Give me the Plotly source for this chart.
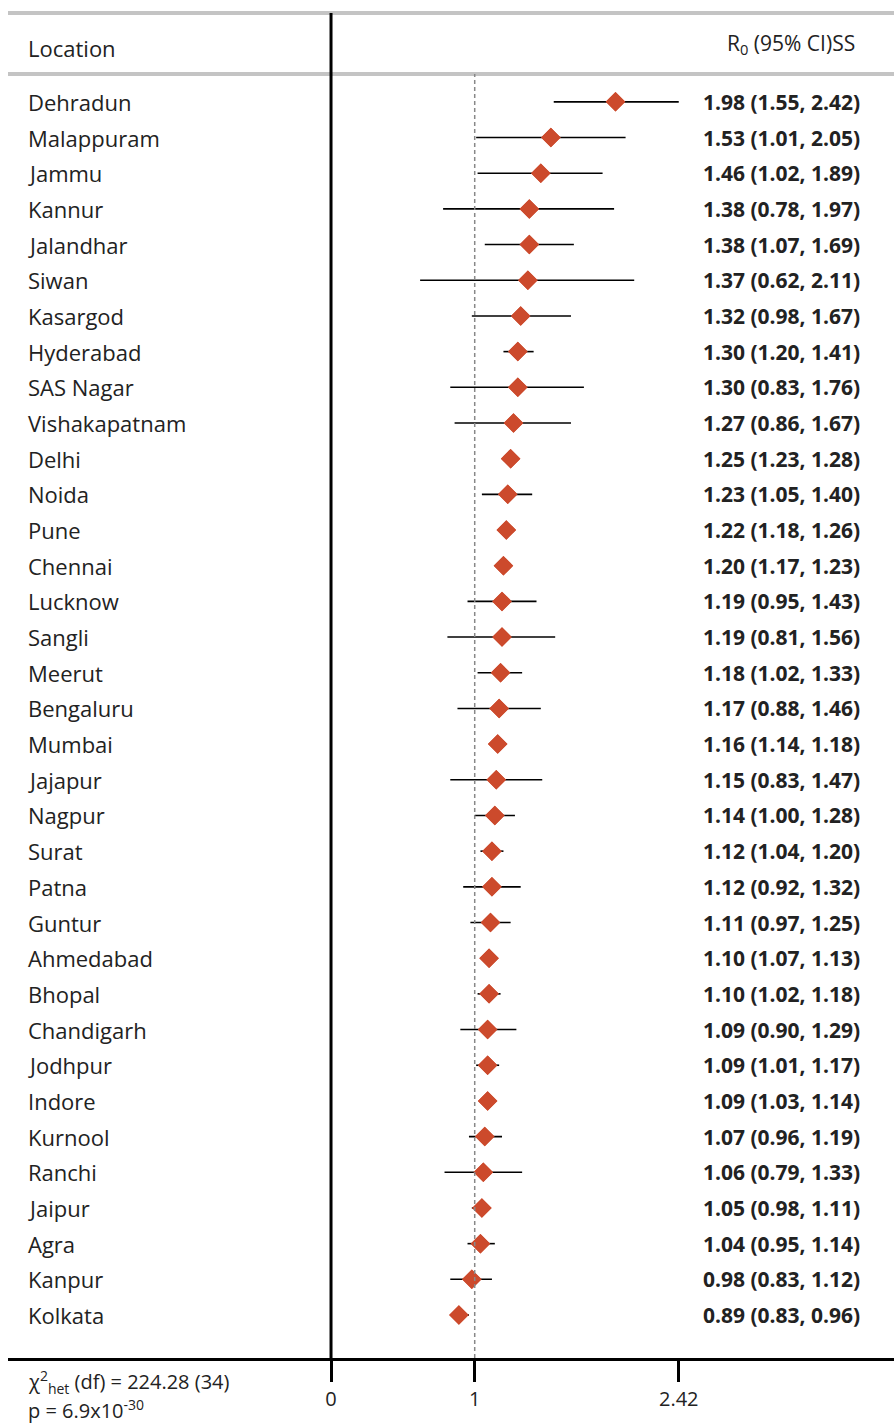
import plotly.graph_objects as go

locations = ["Dehradun", "Malappuram", "Jammu", "Kannur", "Jalandhar", "Siwan", "Kasargod",
             "Hyderabad", "SAS Nagar", "Vishakapatnam", "Delhi", "Noida", "Pune", "Chennai",
             "Lucknow", "Sangli", "Meerut", "Bengaluru", "Mumbai", "Jajapur", "Nagpur", "Surat",
             "Patna", "Guntur", "Ahmedabad", "Bhopal", "Chandigarh", "Jodhpur", "Indore",
             "Kurnool", "Ranchi", "Jaipur", "Agra", "Kanpur", "Kolkata"]
r0 = [1.98, 1.53, 1.46, 1.38, 1.38, 1.37, 1.32, 1.30, 1.30, 1.27, 1.25, 1.23, 1.22, 1.20,
      1.19, 1.19, 1.18, 1.17, 1.16, 1.15, 1.14, 1.12, 1.12, 1.11, 1.10, 1.10, 1.09, 1.09,
      1.09, 1.07, 1.06, 1.05, 1.04, 0.98, 0.89]
ci_low = [1.55, 1.01, 1.02, 0.78, 1.07, 0.62, 0.98, 1.20, 0.83, 0.86, 1.23, 1.05, 1.18, 1.17,
          0.95, 0.81, 1.02, 0.88, 1.14, 0.83, 1.00, 1.04, 0.92, 0.97, 1.07, 1.02, 0.90, 1.01,
          1.03, 0.96, 0.79, 0.98, 0.95, 0.83, 0.83]
ci_high = [2.42, 2.05, 1.89, 1.97, 1.69, 2.11, 1.67, 1.41, 1.76, 1.67, 1.28, 1.40, 1.26, 1.23,
           1.43, 1.56, 1.33, 1.46, 1.18, 1.47, 1.28, 1.20, 1.32, 1.25, 1.13, 1.18, 1.29, 1.17,
           1.14, 1.19, 1.33, 1.11, 1.14, 1.12, 0.96]
tick_vals = [0, 1, 2.42]
tick_text = ["0", "1", "2.42"]

n = len(locations)
ypos = [n - 1 - i for i in range(n)]

FONT = "Open Sans"
TXT = "#222"
fig = go.Figure()

fig.add_trace(go.Scatter(
    x=r0, y=ypos, mode="markers",
    marker=dict(symbol="diamond", size=15, color="#cc4a2c", line=dict(width=0)),
    error_x=dict(type="data", symmetric=False,
                 array=[h - m for h, m in zip(ci_high, r0)],
                 arrayminus=[m - l for m, l in zip(r0, ci_low)],
                 thickness=1.6, width=0, color="black"),
    showlegend=False, hoverinfo="skip",
))
fig.add_trace(go.Scatter(
    x=r0, y=ypos, mode="markers",
    marker=dict(symbol="diamond", size=15, color="#cc4a2c", line=dict(width=0)),
    showlegend=False, hoverinfo="skip",
))

LX = -2.125
annotations = []
for loc, m, lo, hi, y in zip(locations, r0, ci_low, ci_high, ypos):
    annotations.append(dict(x=LX, y=y, xref="x", yref="y", text=loc, showarrow=False,
                            xanchor="left", yanchor="middle",
                            font=dict(family=FONT, size=22, color=TXT)))
    annotations.append(dict(x=3.695, y=y, xref="x", yref="y",
                            text=f"<b>{m:.2f} ({lo:.2f}, {hi:.2f})</b>", showarrow=False,
                            xanchor="right", yanchor="middle",
                            font=dict(family=FONT, size=21, color=TXT)))

annotations.append(dict(x=LX, y=35.5, xref="x", yref="y", text="Location", showarrow=False,
                        xanchor="left", yanchor="middle",
                        font=dict(family=FONT, size=22, color=TXT)))
annotations.append(dict(x=3.66, y=35.62, xref="x", yref="y", text="R<sub>0</sub> (95% CI)SS",
                        showarrow=False, xanchor="right", yanchor="middle",
                        font=dict(family=FONT, size=21, color=TXT)))
annotations.append(dict(x=LX, y=-0.0175, xref="x", yref="paper",
                        text="χ<sup>2</sup><sub>het</sub> (df) = 224.28 (34)", showarrow=False,
                        xanchor="left", yanchor="middle",
                        font=dict(family=FONT, size=20, color=TXT)))
annotations.append(dict(x=LX, y=-0.0385, xref="x", yref="paper",
                        text="p = 6.9x10<sup>-30</sup>", showarrow=False,
                        xanchor="left", yanchor="middle",
                        font=dict(family=FONT, size=20, color=TXT)))

shapes = [
    dict(type="line", xref="paper", yref="paper", x0=0, x1=1, y0=1, y1=1,
         line=dict(color="#c4c4c4", width=4)),
    dict(type="line", xref="paper", yref="y", x0=0, x1=1, y0=34.78, y1=34.78,
         line=dict(color="#c4c4c4", width=4)),
    dict(type="line", xref="x", yref="paper", x0=0, x1=0, y0=0, y1=1,
         line=dict(color="black", width=3)),
    dict(type="line", xref="x", yref="y", x0=1, x1=1, y0=-1.205, y1=34.78,
         line=dict(color="#888888", width=1.5, dash="4px,3px")),
]

fig.update_layout(
    width=894, height=1424,
    margin=dict(l=8, r=0, t=13, b=66),
    paper_bgcolor="white", plot_bgcolor="white",
    xaxis=dict(range=[-2.248, 3.918], showgrid=False, zeroline=False,
               tickvals=tick_vals, ticktext=tick_text, ticks="outside", ticklen=21,
               tickwidth=3, tickcolor="black", showline=True, linewidth=3, linecolor="black",
               tickfont=dict(family=FONT, size=20, color=TXT)),
    yaxis=dict(range=[-1.205, 36.49], showgrid=False, zeroline=False, showticklabels=False,
               showline=False),
    annotations=annotations, shapes=shapes,
)

fig.write_html("out.html", config={"displayModeBar": False},
               post_script="document.body.style.margin='0px';")
